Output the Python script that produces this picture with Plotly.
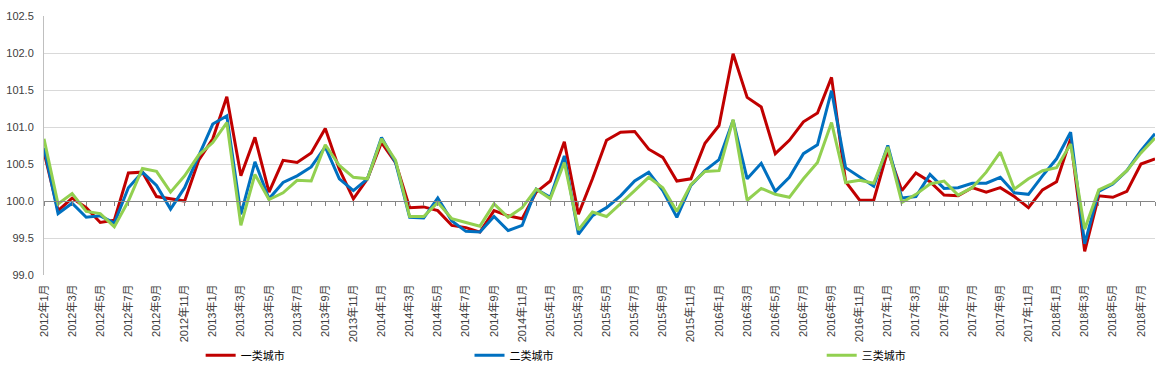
import plotly.graph_objects as go

# ---- data ----
years = [2012, 2013, 2014, 2015, 2016, 2017, 2018]
months = [f"{y}年{m}月" for y in years for m in range(1, 13)][:80]  # 2012年1月 .. 2018年8月

tier1 = [100.66, 99.87, 100.04, 99.91, 99.71, 99.74, 100.38, 100.39, 100.06, 100.03,
         100.00, 100.55, 100.84, 101.41, 100.34, 100.86, 100.12, 100.55, 100.52, 100.65,
         100.98, 100.43, 100.03, 100.30, 100.79, 100.52, 99.91, 99.92, 99.87, 99.67,
         99.64, 99.58, 99.87, 99.80, 99.76, 100.12, 100.27, 100.80, 99.82, 100.30,
         100.82, 100.93, 100.94, 100.70, 100.59, 100.27, 100.30, 100.78, 101.02, 101.99,
         101.40, 101.27, 100.64, 100.82, 101.07, 101.19, 101.67, 100.26, 100.01, 100.01,
         100.68, 100.14, 100.38, 100.26, 100.08, 100.07, 100.18, 100.12, 100.18, 100.06,
         99.91, 100.15, 100.26, 100.84, 99.32, 100.07, 100.05, 100.13, 100.50, 100.57]

tier2 = [100.72, 99.83, 99.97, 99.78, 99.80, 99.70, 100.18, 100.39, 100.21, 99.89,
         100.18, 100.62, 101.04, 101.15, 99.82, 100.53, 100.03, 100.25, 100.34, 100.46,
         100.73, 100.30, 100.14, 100.30, 100.86, 100.52, 99.78, 99.77, 100.04, 99.73,
         99.59, 99.58, 99.79, 99.60, 99.67, 100.16, 100.05, 100.61, 99.55, 99.80,
         99.91, 100.07, 100.27, 100.39, 100.14, 99.78, 100.21, 100.41, 100.56, 101.09,
         100.30, 100.51, 100.13, 100.32, 100.64, 100.76, 101.49, 100.45, 100.33, 100.20,
         100.75, 100.04, 100.06, 100.36, 100.17, 100.18, 100.24, 100.24, 100.32, 100.11,
         100.09, 100.34, 100.57, 100.93, 99.42, 100.13, 100.23, 100.41, 100.68, 100.91]

tier3 = [100.84, 99.96, 100.10, 99.86, 99.83, 99.65, 100.00, 100.44, 100.40, 100.12,
         100.34, 100.62, 100.79, 101.06, 99.67, 100.36, 100.02, 100.11, 100.28, 100.27,
         100.76, 100.48, 100.32, 100.30, 100.84, 100.55, 99.79, 99.79, 99.98, 99.76,
         99.71, 99.66, 99.96, 99.78, 99.91, 100.16, 100.03, 100.52, 99.61, 99.85,
         99.79, 99.96, 100.14, 100.32, 100.18, 99.86, 100.22, 100.40, 100.41, 101.10,
         100.01, 100.17, 100.09, 100.05, 100.30, 100.52, 101.06, 100.25, 100.28, 100.24,
         100.73, 99.98, 100.09, 100.23, 100.27, 100.08, 100.18, 100.39, 100.66, 100.16,
         100.30, 100.41, 100.45, 100.77, 99.62, 100.15, 100.24, 100.41, 100.65, 100.85]

series_names = ["一类城市", "二类城市", "三类城市"]
series_colors = ["#C00000", "#0070C0", "#92D050"]

y_min, y_max, y_base = 99.0, 102.5, 100.0
y_ticks = [99.0, 99.5, 100.0, 100.5, 101.0, 101.5, 102.0, 102.5]

# ---- figure ----
FONT = "Liberation Sans, Arial, Noto Sans CJK SC, sans-serif"
xs = list(range(len(months)))

fig = go.Figure()
legends = ["legend", "legend2", "legend3"]
for name, vals, col, lg in zip(series_names, [tier1, tier2, tier3], series_colors, legends):
    fig.add_trace(go.Scatter(x=xs, y=vals, mode="lines", name=name,
                             line=dict(color=col, width=3), legend=lg))

# helper trace so the axis crossing at 100 is drawn
fig.add_trace(go.Scatter(x=[xs[0], xs[-1]], y=[None, None], xaxis="x2",
                         showlegend=False, hoverinfo="skip", mode="lines"))

legend_common = dict(orientation="h", yanchor="middle", y=-0.31, xanchor="left",
                     bgcolor="rgba(0,0,0,0)",
                     font=dict(family=FONT, size=11, color="#000000"))

fig.update_layout(
    width=1168, height=375,
    margin=dict(l=44, r=13, t=16, b=100, autoexpand=False),
    paper_bgcolor="white", plot_bgcolor="white",
    font=dict(family=FONT, size=11, color="#404040"),
    legend=dict(x=0.141, **legend_common),
    legend2=dict(x=0.383, **legend_common),
    legend3=dict(x=0.700, **legend_common),
    xaxis=dict(range=[xs[0], xs[-1]], tickvals=xs[::2], ticktext=months[::2],
               tickangle=-90, showgrid=False, zeroline=False, showline=False,
               ticks="outside", ticklen=4, tickcolor="rgba(0,0,0,0)", automargin=False,
               tickfont=dict(family=FONT, size=11, color="#404040")),
    xaxis2=dict(overlaying="x", matches="x", anchor="free",
                position=(y_base - y_min) / (y_max - y_min),
                tickvals=xs, showticklabels=False, ticks="outside", ticklen=4,
                tickcolor="#868686", showline=True, linecolor="#868686",
                linewidth=1, showgrid=False, zeroline=False, automargin=False),
    yaxis=dict(range=[y_min, y_max], tickvals=y_ticks,
               ticktext=[f"{v:.1f}" for v in y_ticks],
               showgrid=True, gridcolor="#D9D9D9", gridwidth=1,
               zeroline=False, showline=True, linecolor="#BFBFBF",
               ticks="outside", ticklen=7, tickcolor="rgba(0,0,0,0)", automargin=False,
               tickfont=dict(family=FONT, size=11, color="#404040")),
)

fig.write_html("out.html", config={"displayModeBar": False},
               post_script="document.body.style.margin='0';document.body.style.overflow='hidden';")
